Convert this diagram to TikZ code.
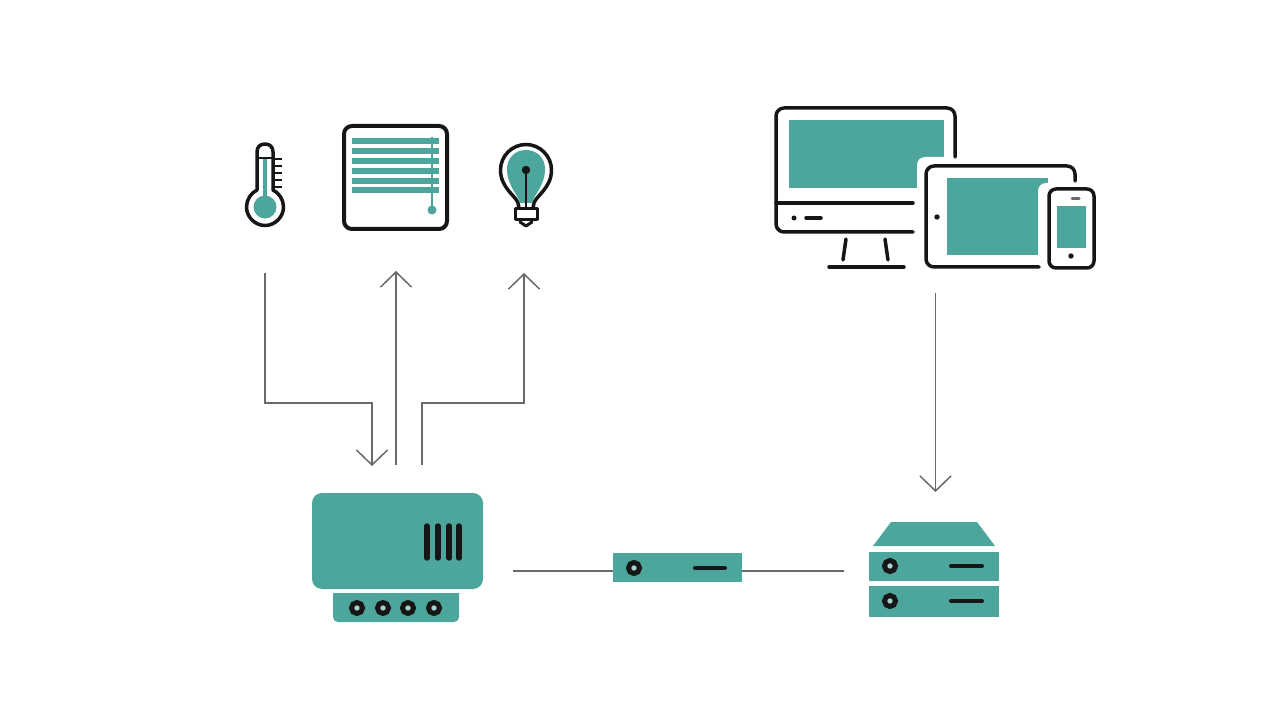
\documentclass[tikz,border=0pt]{standalone}
\usepackage{tikz}
\usetikzlibrary{arrows.meta, positioning}
\definecolor{sensteal}{HTML}{4CA69C}
\definecolor{sensink}{HTML}{161616}
\definecolor{sensline}{HTML}{6A6A6A}
\tikzset{
  icon/.style={inner sep=0pt, outer sep=0pt, minimum width=#1},
  ink/.style={draw=sensink, line width=3.5pt, line cap=round, line join=round},
  tealbox/.style={fill=sensteal, inner sep=0pt, outer sep=0pt},
  flow/.style={draw=sensline, line width=1.5pt, -{Straight Barb[length=15pt, width=31pt]}},
  wire/.style={draw=sensline, line width=1.7pt},
  portring/.style={draw=sensink, line width=5pt, fill=sensteal!50!white},
  bar/.style={draw=sensink, line width=4pt, line cap=round}
}
\begin{document}
\begin{tikzpicture}[x=1pt, y=-1pt]
  \useasboundingbox[fill=white] (0,0) rectangle (1280,719);

  % icons on top row
  \node[icon=40pt, minimum height=84pt] (thermo) at (265,185) {};
  \node[icon=103pt, minimum height=103pt, draw=sensink, line width=4pt, rounded corners=8pt, fill=white] (blinds) at (395.5,177.5) {};
  \node[icon=55pt, minimum height=84pt] (bulb) at (526,185) {};
  \node[icon=319pt, minimum height=160pt] (devices) at (935.5,188) {};

  % thermometer
  \fill[sensteal] (265,207) circle (11.5);
  \fill[sensteal] (263,159) rectangle (267,200);
  \draw[ink] (273,190) .. controls (279,193) and (283.5,199.5) .. (283.5,207)
    .. controls (283.5,217) and (275,225.5) .. (265,225.5)
    .. controls (255,225.5) and (246.5,217) .. (246.5,207)
    .. controls (246.5,199.5) and (251,193) .. (257,190)
    -- (257,152) .. controls (257,147) and (260,144) .. (265,144)
    .. controls (270,144) and (273,147) .. (273,152) -- cycle;
  \draw[ink, line width=2.4pt] (257,158) -- (273,158);
  \foreach \y in {159,166,173,180,187}
    \draw[sensink, line width=2.4pt] (273,\y) -- (282,\y);

  % blinds
  \foreach \y in {138,148,158,168,178,187}
    \fill[sensteal] (352,\y) rectangle (439,\y+6);
  \draw[sensteal, line width=2pt] (432,137) -- (432,210);
  \fill[sensteal] (432,210) circle (4.5);

  % bulb
  \fill[sensteal] (520,203) .. controls (519,196) and (507,186) .. (507,169)
    .. controls (507,158) and (515,150) .. (526,150)
    .. controls (537,150) and (545,158) .. (545,169)
    .. controls (545,186) and (533,196) .. (532,203) -- cycle;
  \draw[ink] (519,208) -- (518,203) .. controls (516,196) and (500.5,188) .. (500.5,170)
    .. controls (500.5,156) and (512,144.5) .. (526,144.5)
    .. controls (540,144.5) and (551.5,156) .. (551.5,170)
    .. controls (551.5,188) and (536,196) .. (534,203) -- (533,208);
  \draw[ink, line width=3pt] (515,209) rectangle (537,220);
  \draw[ink, line width=3pt] (520,222) -- (526,226) -- (532,222);
  \fill[sensink] (526,170) circle (4.2);
  \draw[sensink, line width=2.4pt] (526,170) -- (526,208);

  % monitor
  \fill[sensteal] (789,120) rectangle (944,188);
  \fill[white] (917,157) [rounded corners=8pt] rectangle (1100,275);
  \draw[ink] (955,157) -- (955,117) [rounded corners=8pt] -- (955,108) -- (776,108) -- (776,232) -- (913,232);
  \draw[ink] (776,203) -- (913,203);
  \fill[sensink] (794,218) circle (2.5);
  \draw[ink] (806,218) -- (821,218);
  \draw[ink] (846,239) -- (843,260);
  \draw[ink] (885,239) -- (888,260);
  \draw[ink] (829,267) -- (904,267);

  % tablet
  \fill[sensteal] (947,178) rectangle (1048,255);
  \fill[white] (1038,183) [rounded corners=8pt] rectangle (1100,275);
  \draw[ink] (1039,267) [rounded corners=8pt] -- (926,267) -- (926,166) -- (1075,166) -- (1075,181);
  \fill[sensink] (937,217) circle (2.7);

  % phone
  \draw[ink, rounded corners=7pt] (1049,189) rectangle (1094,268);
  \fill[sensteal] (1057,206) rectangle (1086,248);
  \draw[draw=sensink!65!white, line width=3pt, line cap=round] (1072,199) -- (1079,199);
  \fill[sensink] (1071,256) circle (2.7);

  % hub
  \fill[sensteal, rounded corners=5pt] (333,575) rectangle (459,622);
  \fill[white] (330,575) rectangle (462,593);
  \node[tealbox, rounded corners=10pt, minimum width=171pt, minimum height=96pt] (hub) at (397.5,541) {};
  \foreach \x in {427,438,449,459}
    \draw[bar, line width=5.4pt] (\x,526) -- (\x,558);
  \foreach \x in {357,383,408,434}
    \draw[portring] (\x,608) circle (5.5);
  \coordinate (hubin) at (372,493);
  \coordinate (hubup) at (396,493);
  \coordinate (hubout) at (422,493);
  \coordinate (bulbin) at ([xshift=-2pt]bulb.south);
  \coordinate (bus) at (640,403);
  \coordinate (wirelevel) at (640,571);

  % link and server
  \node[tealbox, minimum width=129pt, minimum height=29pt] (link) at (677.5,567.5) {};
  \draw[portring] (634,568) circle (5.5);
  \draw[bar] (695,568) -- (725,568);

  \node[icon=130pt, minimum height=95pt] (server) at (934,569.5) {};
  \fill[sensteal] (873,546) -- (891,522) -- (977,522) -- (995,546) -- cycle;
  \node[tealbox, minimum width=130pt, minimum height=29pt] (serverA) at (934,566.5) {};
  \node[tealbox, minimum width=130pt, minimum height=31pt] (serverB) at (934,601.5) {};
  \foreach \y in {566,601} {
    \draw[portring] (890,\y) circle (5.5);
    \draw[bar] (951,\y) -- (982,\y);
  }

  % connectors
  \draw[flow, shorten <=46pt, shorten >=27pt] (thermo.south) |- (bus -| hubin) -- (hubin);
  \draw[flow, shorten <=28pt, shorten >=42pt] (hubup) -- (hubup |- blinds.south);
  \draw[flow, shorten <=28pt, shorten >=46pt] (hubout) |- (bus -| bulbin) -- (bulbin);
  \draw[flow, shorten <=25pt, shorten >=30pt] (devices.south) -- (devices.south |- server.north);
  \draw[wire, shorten <=30pt] (hub.east |- wirelevel) -- (link.west |- wirelevel);
  \draw[wire, shorten >=25pt] (link.east |- wirelevel) -- (serverA.west |- wirelevel);
\end{tikzpicture}
\end{document}
